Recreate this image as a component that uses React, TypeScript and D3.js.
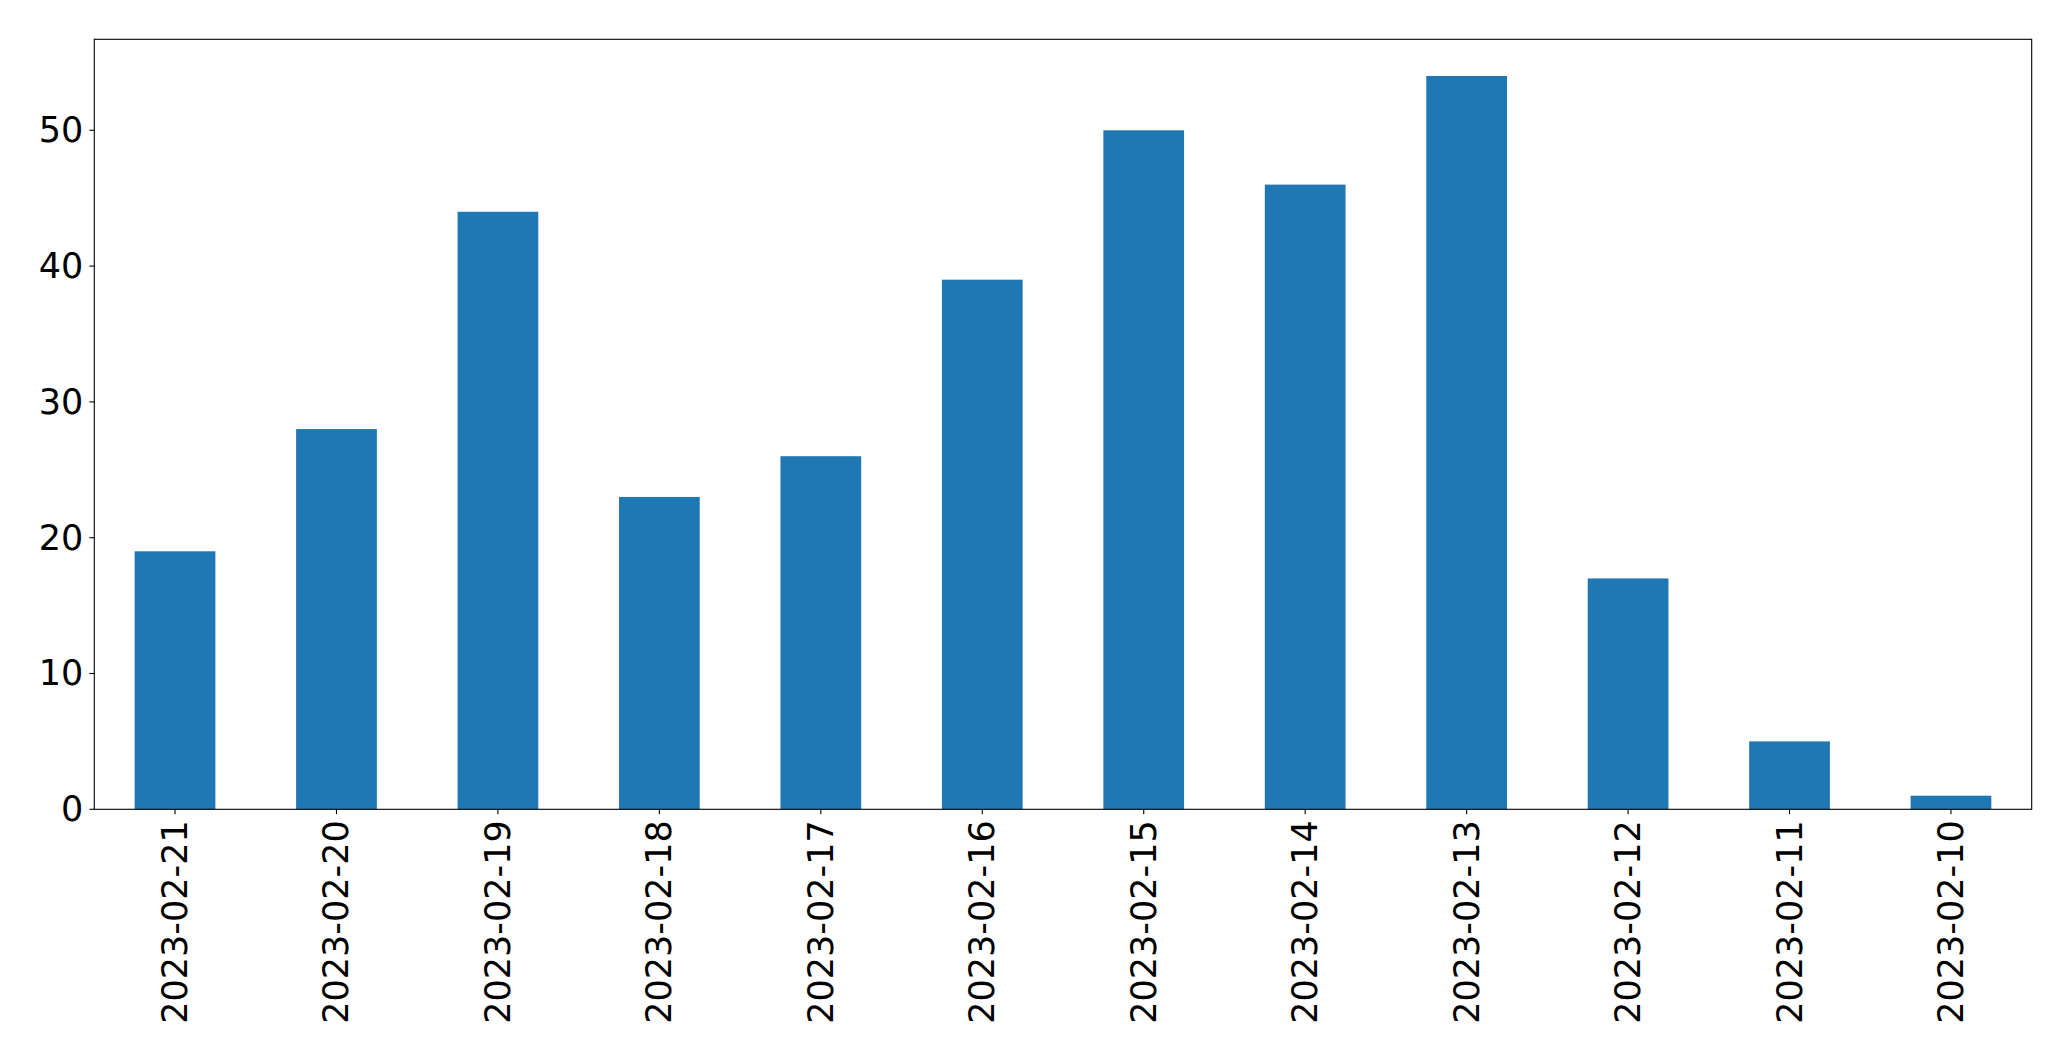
import React from "react";
import * as d3 from "d3";

const categories = ["2023-02-21","2023-02-20","2023-02-19","2023-02-18","2023-02-17","2023-02-16","2023-02-15","2023-02-14","2023-02-13","2023-02-12","2023-02-11","2023-02-10"];
const values = [19, 28, 44, 23, 26, 39, 50, 46, 54, 17, 5, 1];
const yTicks = [0, 10, 20, 30, 40, 50];

export default function App() {
  const W = 2071, H = 1061;
  const left = 94.3, right = 2031.7, top = 39.3, bottom = 809.3;
  const yMax = d3.max(values)! * 1.05;
  const x = d3.scaleLinear().domain([-0.5, categories.length - 0.5]).range([left, right]);
  const y = d3.scaleLinear().domain([0, yMax]).range([bottom, top]);
  const bw = x(0.25) - x(-0.25);
  const font = "'DejaVu Sans', sans-serif";
  const fs = 35;
  return (
    <svg width={W} height={H} style={{ position: "absolute", left: 0, top: 0, background: "#fff" }}>
      <rect x={0} y={0} width={W} height={H} fill="#fff" />
      {values.map((v, i) => (
        <rect key={i} x={x(i) - bw / 2} y={y(v)} width={bw} height={y(0) - y(v)} fill="#1f77b4" />
      ))}
      <rect x={left} y={top} width={right - left} height={bottom - top} fill="none" stroke="#000" strokeWidth={1.1} />
      {yTicks.map((t) => (
        <g key={t}>
          <line x1={left - 4.9} x2={left} y1={y(t)} y2={y(t)} stroke="#000" strokeWidth={1.1} />
          <text x={left - 11} y={y(t)} textAnchor="end" dominantBaseline="central" fontFamily={font} fontSize={fs} fill="#000">{t}</text>
        </g>
      ))}
      {categories.map((c, i) => (
        <g key={c}>
          <line x1={x(i)} x2={x(i)} y1={bottom} y2={bottom + 4.9} stroke="#000" strokeWidth={1.1} />
          <text transform={`translate(${x(i)},${bottom + 11}) rotate(-90)`} textAnchor="end" dominantBaseline="central" fontFamily={font} fontSize={fs} fill="#000">{c}</text>
        </g>
      ))}
    </svg>
  );
}
